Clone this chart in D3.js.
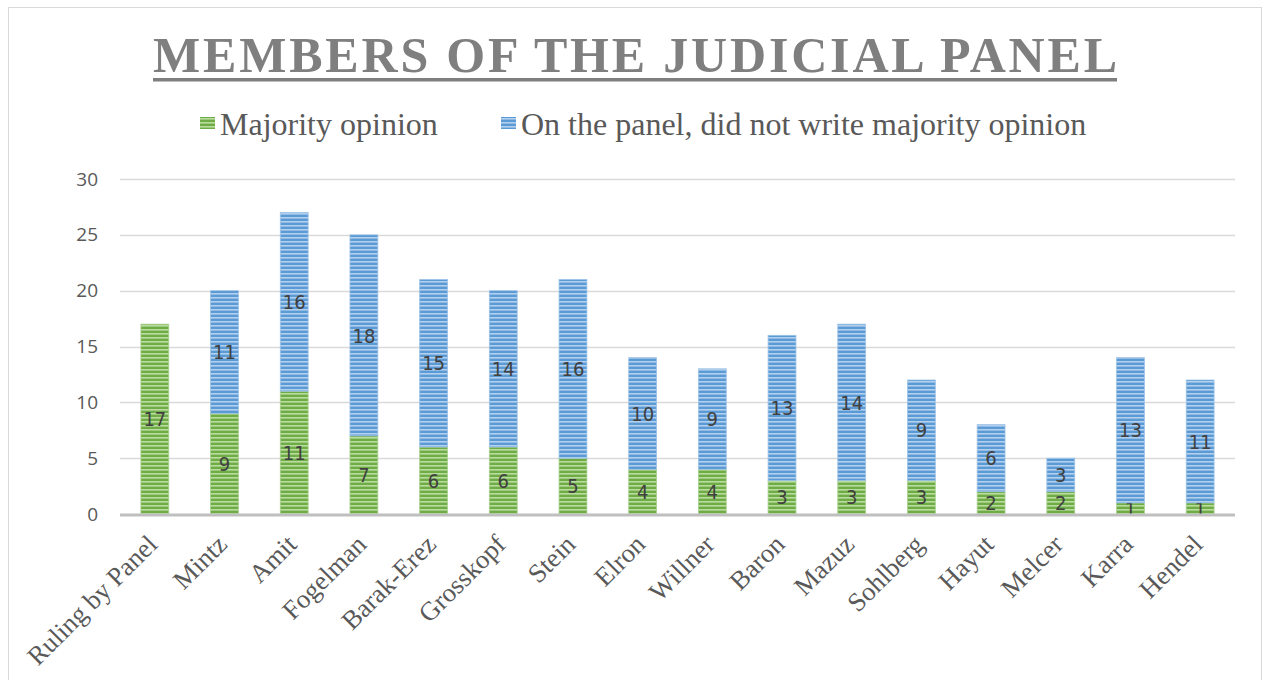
<!DOCTYPE html>
<html>
<head>
<meta charset="utf-8">
<script src="https://cdn.jsdelivr.net/npm/d3@7"></script>
<style>
	body { margin: 0; background: #fff; }
	svg { display: block; }
</style>
</head>
<body>
<div id="chart"></div>
<script>
var judges = ["Ruling by Panel", "Mintz", "Amit", "Fogelman", "Barak-Erez", "Grosskopf", "Stein", "Elron",
	"Willner", "Baron", "Mazuz", "Sohlberg", "Hayut", "Melcer", "Karra", "Hendel"];
var majority = [17, 9, 11, 7, 6, 6, 5, 4, 4, 3, 3, 3, 2, 2, 1, 1];
var panelOnly = [0, 11, 16, 18, 15, 14, 16, 10, 9, 13, 14, 9, 6, 3, 13, 11];
var yTicks = [0, 5, 10, 15, 20, 25, 30];
var seriesNames = ["Majority opinion", "On the panel, did not write majority opinion"];

var W = 1263, H = 680;
var margin = {top: 179, right: 28, bottom: 166, left: 120},
	width = W - margin.left - margin.right,
	height = H - margin.top - margin.bottom;

var svg = d3.select("#chart").append("svg")
	.attr("width", W)
	.attr("height", H);

// striped fills (narrow horizontal)
var defs = svg.append("defs");
function stripes(id, base, light) {
	var p = defs.append("pattern")
		.attr("id", id)
		.attr("patternUnits", "userSpaceOnUse")
		.attr("width", 8).attr("height", 4);
	p.append("rect").attr("width", 8).attr("height", 4).attr("fill", base);
	p.append("rect").attr("y", 2).attr("width", 8).attr("height", 1.6).attr("fill", light);
}
stripes("pat-green", "#6fac46", "#b9dca0");
stripes("pat-blue", "#5a9ad5", "#b4d0ef");

// chart border
svg.append("rect")
	.attr("x", 8.5).attr("y", 7.5)
	.attr("width", 1253).attr("height", 720)
	.attr("fill", "none")
	.attr("stroke", "#d9d9d9");

// title
svg.append("text")
	.attr("x", 153).attr("y", 72)
	.attr("textLength", 964)
	.attr("lengthAdjust", "spacing")
	.attr("font-family", "'Liberation Serif', 'Times New Roman', serif")
	.attr("font-weight", "bold")
	.attr("font-size", 50)
	.attr("fill", "#7f7f7f")
	.text("MEMBERS OF THE JUDICIAL PANEL");
svg.append("rect")
	.attr("x", 153).attr("y", 78)
	.attr("width", 964).attr("height", 3.5)
	.attr("fill", "#7f7f7f");

// legend
var legend = svg.append("g")
	.attr("font-family", "'Liberation Serif', 'Times New Roman', serif")
	.attr("font-size", 32)
	.attr("fill", "#595959");
var legendX = [200, 501];
var legendFill = ["url(#pat-green)", "url(#pat-blue)"];
seriesNames.forEach(function(name, i) {
	legend.append("rect")
		.attr("x", legendX[i]).attr("y", 117)
		.attr("width", 15).attr("height", 12)
		.attr("fill", legendFill[i]);
	legend.append("text")
		.attr("x", legendX[i] + 20).attr("y", 135)
		.text(name);
});

var g = svg.append("g")
	.attr("transform", "translate(" + margin.left + "," + margin.top + ")");

var x = d3.scaleBand().domain(judges).range([0, width]).paddingInner(0.6).paddingOuter(0.3);
var y = d3.scaleLinear().domain([0, 30]).range([height, 0]);

// gridlines
g.append("g")
	.attr("class", "grid")
	.selectAll("line")
	.data(yTicks.slice(1))
	.enter().append("line")
	.attr("x1", 0).attr("x2", width)
	.attr("y1", function(d) { return Math.round(y(d)) + 0.5; })
	.attr("y2", function(d) { return Math.round(y(d)) + 0.5; })
	.attr("stroke", "#d9d9d9")
	.attr("stroke-width", 1.5);

// y axis labels
g.append("g")
	.call(d3.axisLeft(y).tickValues(yTicks).tickSize(0).tickPadding(22))
	.call(function(a) { a.select(".domain").remove(); })
	.selectAll("text")
	.attr("font-family", "'Open Sans', sans-serif")
	.attr("font-size", 19)
	.attr("fill", "#595959");

// stacked bars
var rows = judges.map(function(j, i) { return {judge: j, majority: majority[i], panel: panelOnly[i]}; });
var stack = d3.stack().keys(["majority", "panel"])(rows);
var fills = {majority: "url(#pat-green)", panel: "url(#pat-blue)"};
var edges = {majority: "#a9d18e", panel: "#9dc3e6"};

var layers = g.selectAll(".layer")
	.data(stack)
	.enter().append("g")
	.attr("class", "layer");

layers.selectAll("rect")
	.data(function(s) { return s.map(function(d) { d.key = s.key; return d; }); })
	.enter().append("rect")
	.filter(function(d) { return d[1] > d[0]; })
	.attr("x", function(d) { return x(d.data.judge); })
	.attr("y", function(d) { return y(d[1]); })
	.attr("width", x.bandwidth())
	.attr("height", function(d) { return y(d[0]) - y(d[1]); })
	.attr("fill", function(d) { return fills[d.key]; })
	.attr("stroke", function(d) { return edges[d.key]; })
	.attr("stroke-width", 0.8);

// axis line
g.append("line")
	.attr("x1", 0).attr("x2", width)
	.attr("y1", height + 1).attr("y2", height + 1)
	.attr("stroke", "#bfbfbf")
	.attr("stroke-width", 3);

// data labels
layers.selectAll(".lbl")
	.data(function(s) { return s.filter(function(d) { return d[1] > d[0]; }); })
	.enter().append("text")
	.attr("class", "lbl")
	.attr("x", function(d) { return x(d.data.judge) + x.bandwidth() / 2; })
	.attr("y", function(d) { return y((d[0] + d[1]) / 2); })
	.attr("dy", "0.36em")
	.attr("text-anchor", "middle")
	.attr("font-family", "'DejaVu Sans Condensed', 'DejaVu Sans', sans-serif")
	.attr("font-size", 20)
	.attr("fill", "#404040")
	.text(function(d) { return d[1] - d[0]; });

// category labels
g.append("g")
	.selectAll("text")
	.data(judges)
	.enter().append("text")
	.attr("transform", function(d) {
		return "translate(" + (x(d) + x.bandwidth() / 2 + 4) + "," + (height + 32) + ") rotate(-45)";
	})
	.attr("text-anchor", "end")
	.attr("font-family", "'Liberation Serif', 'Times New Roman', serif")
	.attr("font-size", 26.5)
	.attr("fill", "#595959")
	.text(function(d) { return d; });
</script>
</body>
</html>
